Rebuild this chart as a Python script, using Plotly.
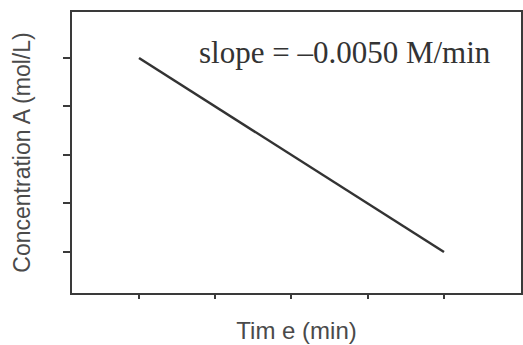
import plotly.graph_objects as go

# Data
time_min = [20, 100]
conc_A = [0.5, 0.1]
x_ticks = [20, 40, 60, 80, 100]
y_ticks = [0.1, 0.2, 0.3, 0.4, 0.5]
slope_label = "slope = \u20130.0050 M/min"
x_title = "Tim e (min)"
y_title = "Concentration A (mol/L)"

W, H = 523, 345
L, R, T, B = 72, 2, 12, 52

fig = go.Figure()
fig.add_trace(go.Scatter(x=time_min, y=conc_A, mode="lines",
                         line=dict(color="#333333", width=2.5),
                         showlegend=False, hoverinfo="skip"))

axis_common = dict(showgrid=False, zeroline=False, showline=True, mirror=True,
                   linecolor="#3a3a3a", linewidth=2, ticks="outside",
                   tickcolor="#3a3a3a", tickwidth=2, showticklabels=False)

fig.update_xaxes(range=[2.43, 120.2], tickvals=x_ticks, ticklen=4,
                 title=dict(text=x_title, standoff=24,
                            font=dict(family="Liberation Sans, Arial", size=24, color="#4a4a4a")),
                 **axis_common)
fig.update_yaxes(range=[0.01546, 0.5948], tickvals=y_ticks, ticklen=7,
                 title=dict(text=y_title, standoff=26,
                            font=dict(family="Liberation Sans, Arial", size=23, color="#4a4a4a")),
                 **axis_common)

fig.add_annotation(text=slope_label, xref="paper", yref="paper",
                   x=(197 - L) / (W - L - R), y=(H - B - 53) / (H - T - B),
                   xanchor="left", yanchor="middle", showarrow=False,
                   font=dict(family="Liberation Serif, Times New Roman", size=31, color="#333333"))

fig.update_layout(width=W, height=H, margin=dict(l=L, r=R, t=T, b=B, autoexpand=False),
                  paper_bgcolor="white", plot_bgcolor="white")

fig.write_html("out.html", config={"displayModeBar": False},
               post_script="document.body.style.margin='0';document.body.style.overflow='hidden';")
